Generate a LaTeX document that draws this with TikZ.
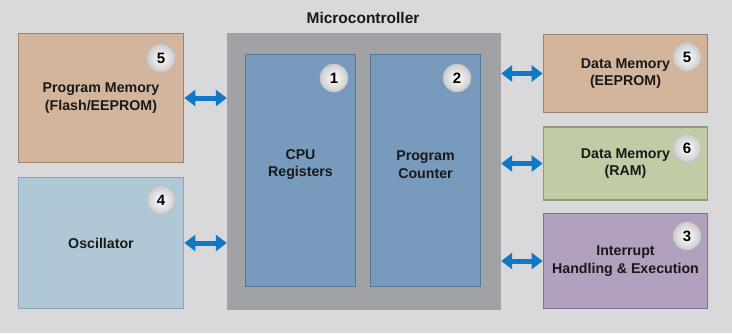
\documentclass[tikz,border=0pt]{standalone}
\usepackage{fontspec}
\setmainfont{Liberation Sans}
\usetikzlibrary{arrows.meta,shadings}
\definecolor{bgc}{RGB}{217,217,219}
\definecolor{mcfill}{RGB}{160,162,165}
\definecolor{bluefill}{RGB}{120,154,189}
\definecolor{blueline}{RGB}{88,118,152}
\definecolor{pmfill}{RGB}{211,181,157}
\definecolor{pmline}{RGB}{152,130,112}
\definecolor{oscfill}{RGB}{176,200,213}
\definecolor{oscline}{RGB}{140,163,178}
\definecolor{ramfill}{RGB}{192,204,166}
\definecolor{ramline}{RGB}{140,155,118}
\definecolor{intfill}{RGB}{178,161,190}
\definecolor{intline}{RGB}{128,112,144}
\definecolor{arrowc}{RGB}{16,120,196}
\tikzset{
  box/.style={draw, line width=1.8pt, minimum width=#1, inner sep=0pt, align=center,
    font=\bfseries\fontsize{14.2}{17.5}\selectfont, text=black!90},
  box/.default=100pt,
  badge/.style={circle, minimum size=28pt, inner sep=0pt, inner color=white, outer color=black!20,
    draw=black!25, line width=0.5pt, font=\bfseries\fontsize{15}{15}\selectfont},
  lbl/.style={align=center, font=\bfseries\fontsize{14.2}{17.5}\selectfont, text=black!90},
  link/.style={draw=arrowc, line width=5pt,
    arrows={Triangle[length=11pt,width=16pt]-Triangle[length=11pt,width=16pt]}}
}
\begin{document}
\begin{tikzpicture}[x=1pt,y=-1pt]
\fill[bgc] (0,0) rectangle (732,333);
\useasboundingbox (0,0) rectangle (732,333);
% title
\node[font=\bfseries\fontsize{15.5}{15.5}\selectfont, text=black!90] (title) at (363,18) {Microcontroller};
% microcontroller
\node[fill=mcfill, minimum width=274pt, minimum height=277pt, inner sep=0pt] (mc) at (364,171.5) {};
\node[box=110pt, fill=bluefill, draw=blueline, minimum height=232pt] (cpu) at (300.5,170.5) {};
\node[box=110pt, fill=bluefill, draw=blueline, minimum height=232pt] (pc) at (425.5,170.5) {};
\node[lbl] (cpulbl) at (300.5,164.5) {CPU\\Registers};
\node[lbl] (pclbl) at (425.5,164.5) {Program\\Counter};
% left boxes
\node[box=165pt, fill=pmfill, draw=pmline, minimum height=129pt] (pm) at (101,98) {Program Memory\\(Flash/EEPROM)};
\node[box=165pt, fill=oscfill, draw=oscline, minimum height=131pt] (osc) at (101,243) {Oscillator};
% right boxes
\node[box=164pt, fill=pmfill, draw=pmline, minimum height=78pt] (dee) at (625.5,73.5) {Data Memory\\(EEPROM)};
\node[box=164pt, fill=ramfill, draw=ramline, minimum height=73pt] (ram) at (625.5,163.5) {Data Memory\\(RAM)};
\node[box=164pt, fill=intfill, draw=intline, minimum height=95pt] (intr) at (625.5,261) {Interrupt\\Handling \& Execution};
% badges
\node[badge] (b1) at (334,78) {1};
\node[badge] (b2) at (457,78) {2};
\node[badge] (b5a) at (161,58) {5};
\node[badge] (b4) at (161,200) {4};
\node[badge] (b5b) at (687,57) {5};
\node[badge] (b6) at (687,148) {6};
\node[badge] (b3) at (687,236) {3};
% connectors
\draw[link] (pm.east) -- (pm.east -| mc.west);
\draw[link] (osc.east) -- (osc.east -| mc.west);
\draw[link] (dee.west -| mc.east) -- (dee.west);
\draw[link] (ram.west -| mc.east) -- (ram.west);
\draw[link] (intr.west -| mc.east) -- (intr.west);
\end{tikzpicture}
\end{document}
